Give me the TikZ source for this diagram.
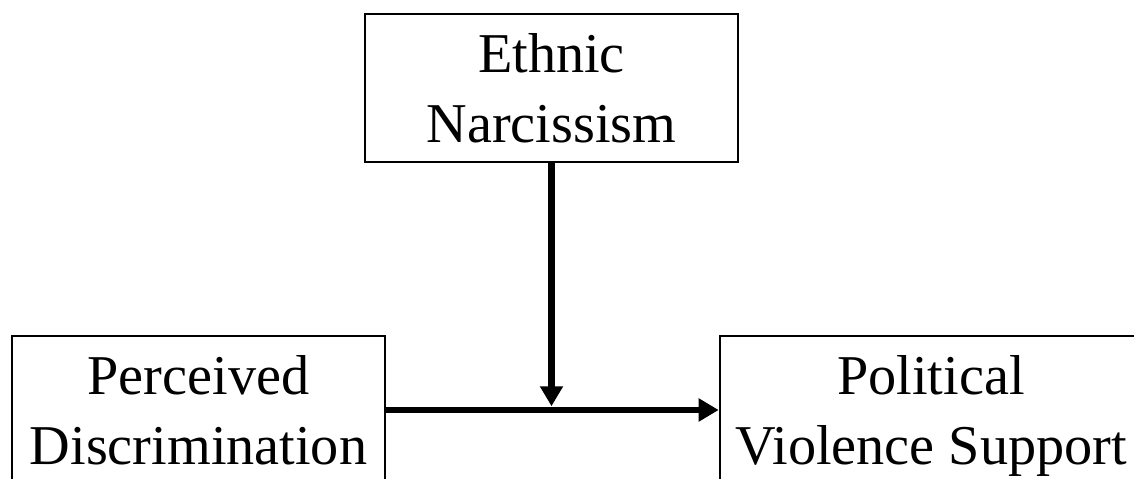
\documentclass[tikz,border=0pt]{standalone}
\usepackage{fontspec}
\setmainfont{Liberation Serif}
\usetikzlibrary{arrows.meta,calc}
\begin{document}
\begin{tikzpicture}[x=0.02cm, y=-0.02cm,
  varbox/.style={draw, line width=1.5pt, minimum width=7.46cm, minimum height=2.96cm,
    inner sep=0pt, align=center, text depth=0pt, font=\fontsize{32}{39.4}\selectfont},
  effectline/.style={line width=3.9pt, -{Triangle[length=0.4cm, width=0.44cm]}}]
\useasboundingbox (0,0) rectangle (1134,479);

% the three variables
\node[varbox] (ethnic) at (551.5,88) {Ethnic\\Narcissism};
\node[varbox] (perceived) at (198.5,410) {Perceived\\Discrimination};
\node[varbox, minimum width=8.44cm] (violence) at (931,410) {Political\\Violence Support};

% main effect and the moderating path
\draw[effectline] (perceived) -- (violence);
\coordinate (joint) at ($(perceived.east)!0.5!(violence.west)$);
\draw[effectline, shorten >=0.075cm] (ethnic.south) -- (ethnic.south |- joint);
\end{tikzpicture}
\end{document}
